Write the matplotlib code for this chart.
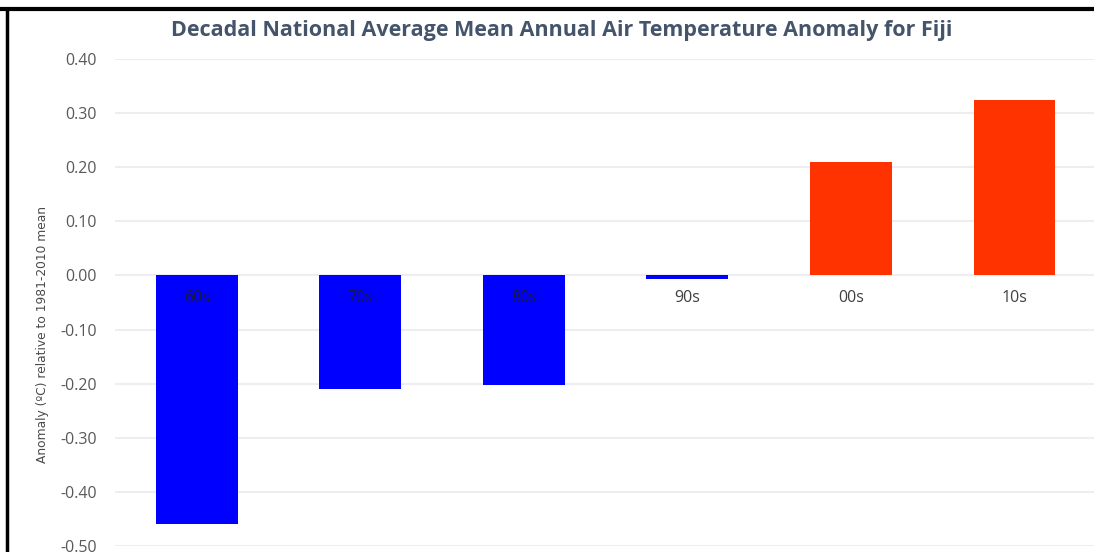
import matplotlib
matplotlib.use("Agg")
import matplotlib.pyplot as plt
from matplotlib.lines import Line2D

decades = ["60s", "70s", "80s", "90s", "00s", "10s"]
anomalies = [-0.46, -0.209, -0.203, -0.007, 0.209, 0.325]
colors = ["#0000FF", "#0000FF", "#0000FF", "#0000FF", "#FF3300", "#FF3300"]
yticks = [0.40, 0.30, 0.20, 0.10, 0.00, -0.10, -0.20, -0.30, -0.40, -0.50]

fig = plt.figure(figsize=(10.94, 5.52), dpi=100)
ax = fig.add_axes([0.105, 0.011, 0.897, 0.882])

x = list(range(len(decades)))
ax.bar(x, anomalies, width=0.5, color=colors, zorder=3)
ax.set_xlim(-0.5, len(decades) - 0.5)
ax.set_ylim(-0.5, 0.4)
ax.set_yticks(yticks)
ax.set_yticklabels([f"{v:.2f}" for v in yticks], fontfamily="Open Sans",
                   fontsize=11.5, fontweight="medium", color="#595959")
ax.tick_params(axis="y", length=0, pad=13)
ax.set_xticks([])
ax.grid(axis="y", color="#EDEDF2", linewidth=1.5, zorder=0)
for s in ax.spines.values():
    s.set_visible(False)

for xi, lab in zip(x, decades):
    ax.text(xi, -0.041, lab, ha="center", va="center", fontfamily="Open Sans",
            fontsize=11.5, fontweight="medium",
            color="#1a1a3a" if anomalies[xi] < -0.05 else "#404040", zorder=4)

ax.set_ylabel("Anomaly (ºC) relative to 1981-2010 mean",
              fontfamily="DejaVu Sans", fontsize=8.8, color="#4a4a4a")
ax.yaxis.set_label_coords(-0.067, 0.435)

fig.text(0.513, 0.944, "Decadal National Average Mean Annual Air Temperature Anomaly for Fiji",
         ha="center", va="center", fontfamily="Open Sans", fontweight="bold",
         fontsize=15.5, color="#44546A")

# screenshot border lines
fig.add_artist(Line2D([0, 1], [1 - 9 / 552, 1 - 9 / 552], transform=fig.transFigure,
                      color="black", linewidth=3))
fig.add_artist(Line2D([6.5 / 1094, 6.5 / 1094], [0, 1 - 9 / 552], transform=fig.transFigure,
                      color="black", linewidth=2.5))

fig.savefig("out.png", dpi=100)
